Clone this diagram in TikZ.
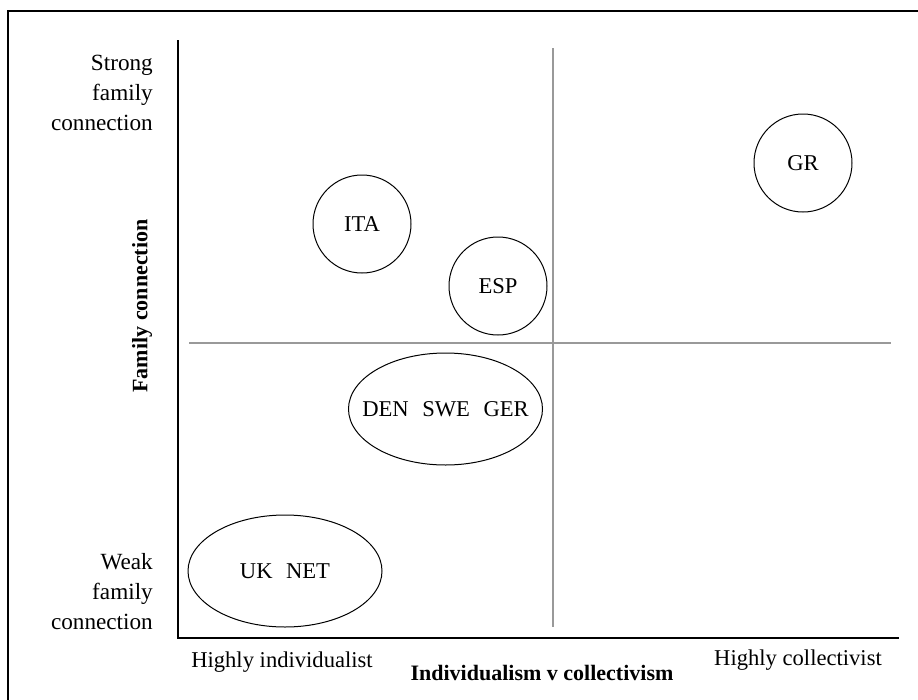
\documentclass[tikz,border=0pt]{standalone}
\usepackage{fontspec}
\setmainfont{Liberation Serif}
\usetikzlibrary{shapes.geometric}
\begin{document}
\begin{tikzpicture}[x=1pt,y=-1pt,
  lbl/.style={font=\fontsize{22.6}{30}\selectfont, inner sep=0pt},
  slbl/.style={font=\fontsize{23.2}{30}\selectfont, inner sep=0pt},
  blbl/.style={font=\fontsize{22}{26}\selectfont\bfseries, inner sep=0pt},
  circ/.style={draw, circle, line width=1pt, minimum size=98pt, inner sep=0pt, font=\fontsize{22.6}{26}\selectfont},
  ell/.style={draw, ellipse, line width=1pt, minimum width=194pt, minimum height=112pt, inner sep=0pt, font=\fontsize{22.6}{26}\selectfont},
  axis/.style={line width=1.3pt, black},
  quad/.style={line width=1.4pt, black!40}]
\useasboundingbox (0,0) rectangle (918,699);
% frame (cropped at right and bottom)
\coordinate (fbl) at (8,700);
\coordinate (ftl) at (8,11);
\coordinate (ftr) at (919,11);
\draw[line width=1.5pt] (fbl) -- (ftl) -- (ftr);
% axes
\coordinate (ytop) at (178,40);
\coordinate (orig) at (178,638);
\coordinate (xend) at (899,638);
\draw[axis] (ytop) -- (orig) -- (xend);
% quadrant lines
\coordinate (hl) at (189,343);
\coordinate (hr) at (891,343);
\coordinate (vt) at (553,48);
\coordinate (vb) at (553,627);
\draw[quad] (hl) -- (hr);
\draw[quad] (vt) -- (vb);
% groups
\node[circ] (ita) at (362,224) {\makebox[0pt]{ITA}};
\node[circ] (esp) at (498,286) {\makebox[0pt]{ESP}};
\node[circ] (gr) at (803,163) {\makebox[0pt]{GR}};
\node[ell] (dsg) at (445.5,409) {\makebox[0pt]{DEN\hspace{0.6em}SWE\hspace{0.6em}GER}};
\node[ell] (uk) at (285,571) {\makebox[0pt]{UK\hspace{0.6em}NET}};
% axis labels
\node[slbl, anchor=east, align=right] (strong) at (153,93) {Strong\\family\\connection};
\node[slbl, anchor=east, align=right] (weak) at (153,592) {Weak\\family\\connection};
\node[lbl] (hind) at (282,662) {Highly individualist};
\node[lbl] (hcol) at (798,660) {Highly collectivist};
\node[blbl, rotate=90] (fam) at (142,306) {Family connection};
\node[blbl] (ivc) at (542,673) {Individualism v collectivism};
\end{tikzpicture}
\end{document}
